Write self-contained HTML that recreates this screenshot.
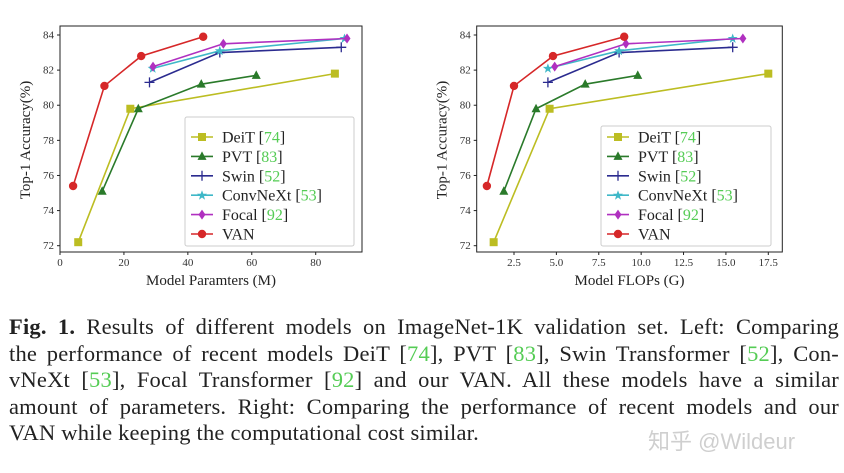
<!DOCTYPE html>
<html><head><meta charset="utf-8">
<style>
html,body{margin:0;padding:0;background:#fff;}
body{width:844px;height:473px;position:relative;overflow:hidden;font-family:"Liberation Serif",serif;}
svg{position:absolute;left:0;top:0;}
.cap{position:absolute;left:9px;width:830px;font-size:22.5px;letter-spacing:0.2px;color:#222;line-height:26.5px;}
.cap div{text-align:justify;text-align-last:justify;white-space:nowrap;}
.cap div.last{text-align-last:left;}
.g{color:#5c5;}
.wm{position:absolute;left:648px;top:424px;font-family:"Liberation Sans","Noto Sans CJK SC",sans-serif;font-size:22px;color:#cfcfcf;}
</style></head>
<body>
<svg id="chart" width="844" height="300"></svg>
<div class="cap" style="top:314px">
<div><b>Fig. 1.</b> Results of different models on ImageNet-1K validation set. Left: Comparing</div>
<div>the performance of recent models DeiT [<span class="g">74</span>], PVT [<span class="g">83</span>], Swin Transformer [<span class="g">52</span>], Con-</div>
<div>vNeXt [<span class="g">53</span>], Focal Transformer [<span class="g">92</span>] and our VAN. All these models have a similar</div>
<div>amount of parameters. Right: Comparing the performance of recent models and our</div>
<div class="last">VAN while keeping the computational cost similar.</div>
</div>
<div class="wm">知乎 @Wildeur</div>
<script>
const seriesNames = ["DeiT","PVT","Swin","ConvNeXt","Focal","VAN"];
const seriesRefs = ["74","83","52","53","92",""];
const paramsX = [[5.7,22,86],[13.2,24.5,44.2,61.4],[28,50,88],[29,50,89],[29.1,51.1,89.8],[4.1,13.9,25.4,44.8]];
const flopsX = [[1.3,4.6,17.5],[1.9,3.8,6.7,9.8],[4.5,8.7,15.4],[4.5,8.7,15.4],[4.9,9.1,16.0],[0.9,2.5,4.8,9.0]];
const accY = [[72.2,79.8,81.8],[75.1,79.8,81.2,81.7],[81.3,83.0,83.3],[82.1,83.1,83.8],[82.2,83.5,83.8],[75.4,81.1,82.8,83.9]];
const yTicks = [72,74,76,78,80,82,84];
const leftXTicks = [0,20,40,60,80];
const rightXTicks = [2.5,5.0,7.5,10.0,12.5,15.0,17.5];
const colors = ["#bcbd22","#2a7a2a","#2b2b8f","#3fb8c8","#b030c0","#d62728"];
const markers = ["s","^","+","*","d","o"];
const NS="http://www.w3.org/2000/svg";
const svg=document.getElementById('chart');
function mk(tag,attrs,parent){const e=document.createElementNS(NS,tag);for(const k in attrs)e.setAttribute(k,attrs[k]);(parent||svg).appendChild(e);return e;}
function marker(g,m,x,y,c){
  if(m==="s"){mk('rect',{x:x-4,y:y-4,width:8,height:8,fill:c},g);}
  else if(m==="^"){mk('polygon',{points:`${x},${y-5} ${x-4.5},${y+3.5} ${x+4.5},${y+3.5}`,fill:c},g);}
  else if(m==="+"){mk('path',{d:`M${x-5},${y}H${x+5}M${x},${y-5}V${y+5}`,stroke:c,'stroke-width':1.3},g);}
  else if(m==="*"){mk('polygon',{points:`${x},${y-5} ${x+1.3},${y-1.5} ${x+5},${y-1.5} ${x+2},${y+1} ${x+3},${y+4.5} ${x},${y+2.3} ${x-3},${y+4.5} ${x-2},${y+1} ${x-5},${y-1.5} ${x-1.3},${y-1.5}`,fill:c},g);}
  else if(m==="d"){mk('polygon',{points:`${x},${y-5} ${x+3.5},${y} ${x},${y+5} ${x-3.5},${y}`,fill:c},g);}
  else {mk('circle',{cx:x,cy:y,r:4.2,fill:c},g);}
}
function panel(name,box,xmin,xmax,xTicks,xFmt,xs,xTitle,legTop){
  const g=mk('g',{});
  
  
  const X=v=>box.l+(v-xmin)/(xmax-xmin)*(box.r-box.l);
  const Y=v=>35+(84-v)/(84-72)*(245.7-35);
  mk('rect',{x:box.l,y:26,width:box.r-box.l,height:226,fill:'none',stroke:'#222','stroke-width':1},g);
  xTicks.forEach(t=>{const x=X(t);mk('line',{x1:x,x2:x,y1:252,y2:255,stroke:'#222'},g);
    const tx=mk('text',{x:x,y:266,'font-size':11,'text-anchor':'middle',fill:'#333'},g);tx.textContent=xFmt(t);});
  yTicks.forEach(t=>{const y=Y(t);mk('line',{x1:box.l-3,x2:box.l,y1:y,y2:y,stroke:'#222'},g);
    const tx=mk('text',{x:box.l-6,y:y+3.5,'font-size':11,'text-anchor':'end',fill:'#333'},g);tx.textContent=t;});
  const xt=mk('text',{x:(box.l+box.r)/2,y:285,'font-size':15,'text-anchor':'middle',fill:'#222'},g);xt.textContent=xTitle;
  
  const yt=mk('text',{x:0,y:0,'font-size':15,'text-anchor':'middle',fill:'#222',transform:`translate(${box.l-30},140) rotate(-90)`},g);yt.textContent='Top-1 Accuracy(%)';
  
  seriesNames.forEach((n,i)=>{
    const sg=mk('g',{},g);
    
    
    const pts=xs[i].map((v,j)=>[X(v),Y(accY[i][j])]);
    mk('polyline',{points:pts.map(p=>p.join(',')).join(' '),fill:'none',stroke:colors[i],'stroke-width':1.6},sg);
    pts.forEach(p=>marker(sg,markers[i],p[0],p[1],colors[i]));
  });
  const lg=mk('g',{},g);
  
  
  mk('rect',{x:box.legL,y:legTop,width:box.legW,height:246-legTop,fill:'#fff',stroke:'#ccc',rx:2},lg);
  seriesNames.forEach((n,i)=>{
    const y=137+i*19.4;
    const eg=mk('g',{},lg);
    
    
    mk('line',{x1:box.legL+6,x2:box.legL+28,y1:y,y2:y,stroke:colors[i],'stroke-width':1.6},eg);
    marker(eg,markers[i],box.legL+17,y,colors[i]);
    const t=mk('text',{x:box.legL+37,y:y+5.5,'font-size':16,fill:'#222'},eg);
    t.textContent=n+(seriesRefs[i]?' [':'');
    if(seriesRefs[i]){const s=mk('tspan',{fill:'#5c5'},t);s.textContent=seriesRefs[i];const s2=mk('tspan',{},t);s2.textContent=']';}
  });
}
panel('left-chart-params',{l:60,r:362,legL:185,legW:169},0,80*(362-60)/(315.7-60),leftXTicks,t=>t,paramsX,'Model Paramters (M)',117);
const rl=476.7,rr=782.3,p25=514,p175=768.3,k=(p175-p25)/15;
panel('right-chart-flops',{l:rl,r:rr,legL:601,legW:170},2.5-(p25-rl)/k,2.5+(rr-p25)/k,rightXTicks,t=>t.toFixed(1),flopsX,'Model FLOPs (G)',126);
</script>
</body></html>
